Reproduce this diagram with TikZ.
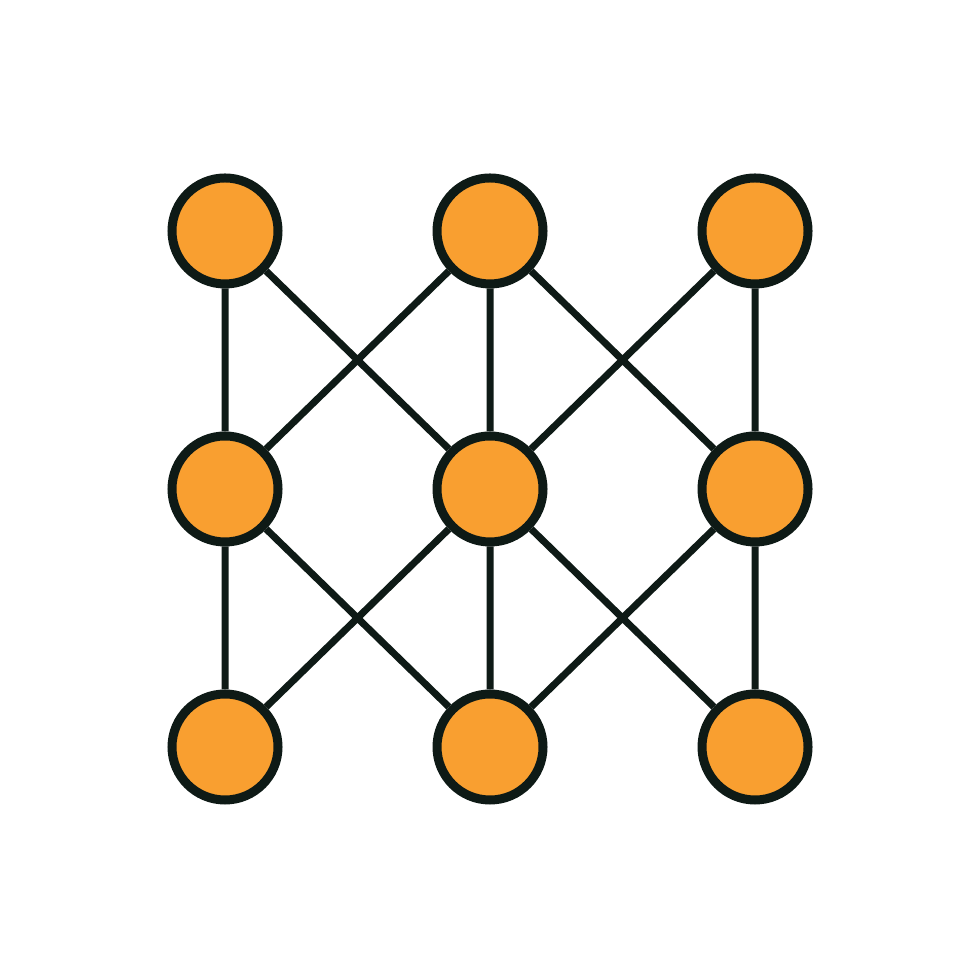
\documentclass[tikz,border=0pt]{standalone}
\definecolor{dot}{HTML}{F99F30}
\definecolor{ink}{HTML}{0E1A16}
\begin{document}
\begin{tikzpicture}
  [x=1mm,y=1mm,
  unit/.style={circle,draw=ink,fill=dot,line width=0.9mm,minimum size=10.6mm,inner sep=0pt},
  link/.style={draw=ink,line width=0.7mm}]
\useasboundingbox (0,0) rectangle (98,98);
% top row
\node[unit] (t1) at (22.5,74.9) {};
\node[unit] (t2) at (49,74.9) {};
\node[unit] (t3) at (75.5,74.9) {};
% middle row
\node[unit] (m1) at (22.5,49.1) {};
\node[unit] (m2) at (49,49.1) {};
\node[unit] (m3) at (75.5,49.1) {};
% bottom row
\node[unit] (b1) at (22.5,23.3) {};
\node[unit] (b2) at (49,23.3) {};
\node[unit] (b3) at (75.5,23.3) {};
\path[link] (t1) -- (m1) (t1) -- (m2)
  (t2) -- (m1) (t2) -- (m2) (t2) -- (m3)
  (t3) -- (m2) (t3) -- (m3)
  (m1) -- (b1) (m1) -- (b2)
  (m2) -- (b1) (m2) -- (b2) (m2) -- (b3)
  (m3) -- (b2) (m3) -- (b3);
\end{tikzpicture}
\end{document}
